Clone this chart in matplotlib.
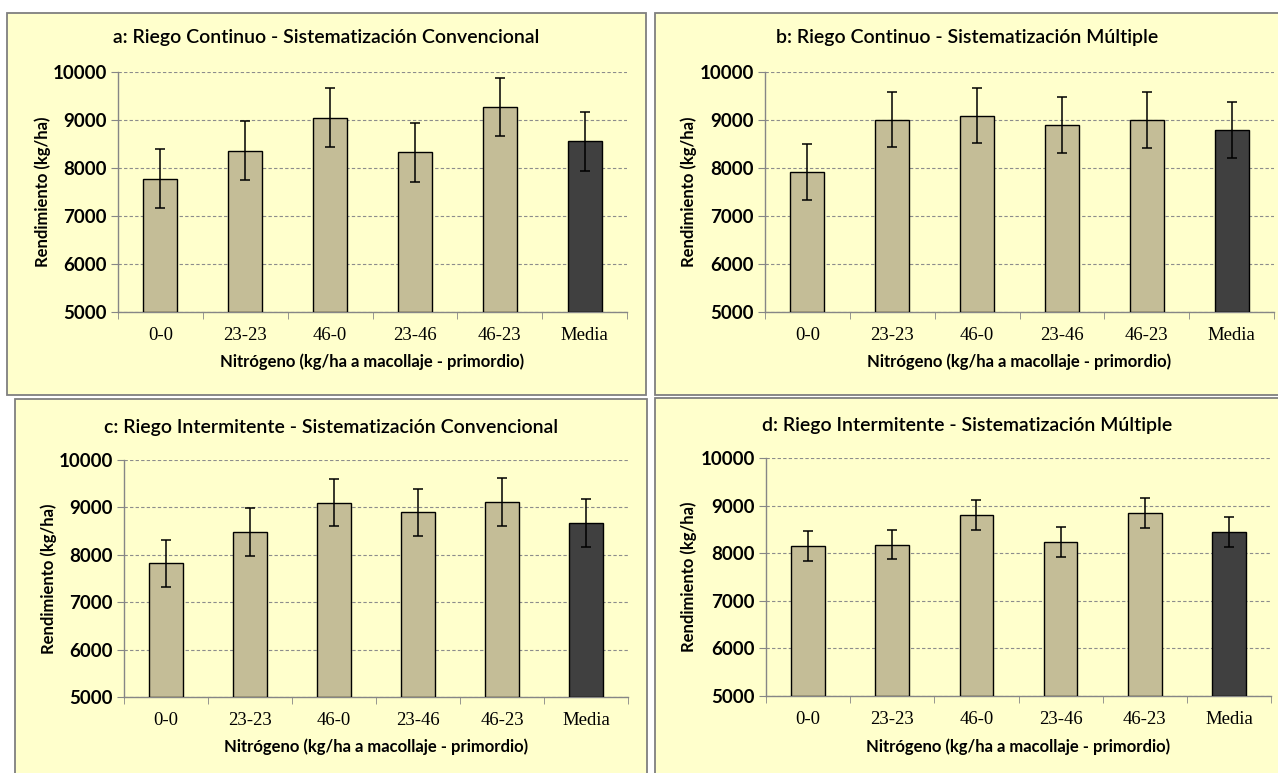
import matplotlib
matplotlib.use("Agg")
import matplotlib.pyplot as plt
from matplotlib.patches import Rectangle
import numpy as np

# Rendimiento de arroz por dosis de N, cuatro combinaciones riego / sistematización
categories = ["0-0", "23-23", "46-0", "23-46", "46-23", "Media"]

titles = [
    "a: Riego Continuo - Sistematización Convencional",
    "b: Riego Continuo - Sistematización Múltiple",
    "c: Riego Intermitente - Sistematización Convencional",
    "d: Riego Intermitente - Sistematización Múltiple",
]

yield_a = [7780, 8360, 9050, 8330, 9270, 8555]
err_a = [611, 610, 611, 612, 611, 611]

yield_b = [7915, 9005, 9090, 8895, 9000, 8785]
err_b = [580, 576, 577, 576, 577, 587]

yield_c = [7820, 8475, 9100, 8895, 9120, 8675]
err_c = [502, 502, 502, 500, 502, 512]

yield_d = [8160, 8180, 8800, 8230, 8850, 8455]
err_d = [315, 308, 318, 311, 315, 315]

W, H = 1278, 773
BG = "#FFFFCC"
TAN = "#C4BD97"
DARK = "#404040"
GRID = "#8C8C8C"

# panel boxes and plot areas in pixels: (x0, y0, x1, y1), y measured from the top
boxes = [(7, 13, 646, 395), (655, 13, 1285, 395), (15, 399, 647, 780), (655, 398, 1285, 780)]
areas = [(118, 72, 627, 312), (765, 72, 1274, 312), (124, 460, 628, 697), (766, 458, 1271, 696)]
title_x = [326, 967, 331, 967]
title_y = [38, 38, 427, 425]
ylabel_x = [43, 689, 49, 689]
xlabel_y = [362, 362, 747, 747]

fig = plt.figure(figsize=(W / 100, H / 100), dpi=100)
fig.patch.set_facecolor("white")

def fx(px):
    return px / W

def fy(py):
    return 1 - py / H

sans = "Lato"
serif = "Liberation Serif"

data = [(yield_a, err_a), (yield_b, err_b), (yield_c, err_c), (yield_d, err_d)]

for i, (vals, errs) in enumerate(data):
    bx0, by0, bx1, by1 = boxes[i]
    fig.patches.append(Rectangle((fx(bx0), fy(by1)), fx(bx1 - bx0), (by1 - by0) / H,
                                 transform=fig.transFigure, facecolor=BG,
                                 edgecolor="#7F7F7F", linewidth=1.3, zorder=-5))

    x0, y0, x1, y1 = areas[i]
    ax = fig.add_axes([fx(x0), fy(y1), fx(x1 - x0), (y1 - y0) / H])
    ax.set_facecolor("none")
    ax.set_zorder(2)

    x = np.arange(len(categories))
    colors = [TAN] * (len(categories) - 1) + [DARK]
    ax.bar(x, np.array(vals) - 5000, bottom=5000, width=0.4, color=colors,
           edgecolor="black", linewidth=1.0, zorder=3)
    ax.errorbar(x, vals, yerr=errs, fmt="none", ecolor="black", elinewidth=1.1,
                capsize=3.5, capthick=1.1, zorder=4)

    ax.set_xlim(-0.5, len(categories) - 0.5)
    ax.set_ylim(5000, 10000)
    ax.set_yticks(np.arange(5000, 10001, 1000))
    ax.yaxis.grid(True, linestyle=(0, (3, 2)), color=GRID, linewidth=0.8)
    ax.set_axisbelow(True)

    for s in ["top", "right"]:
        ax.spines[s].set_visible(False)
    for s in ["left", "bottom"]:
        ax.spines[s].set_color("#868686")
        ax.spines[s].set_linewidth(1.0)

    # category labels centred, tick marks on the slot boundaries
    ax.set_xticks(x)
    ax.set_xticklabels(categories, fontfamily=serif, fontsize=13.5)
    ax.set_xticks(np.arange(-0.5, len(categories)), minor=True)
    ax.tick_params(axis="x", which="major", length=0, pad=11)
    ax.tick_params(axis="x", which="minor", length=5, color="#868686", direction="out")
    ax.tick_params(axis="y", length=5, color="#868686", pad=3)
    for lab in ax.get_yticklabels():
        lab.set_fontfamily(sans)
        lab.set_fontweight("bold")
        lab.set_fontsize(13.5)

    fig.text(fx(title_x[i]), fy(title_y[i]), titles[i],
             ha="center", va="center", fontsize=14, fontweight="semibold", fontfamily=sans)
    fig.text(fx(ylabel_x[i]), fy((y0 + y1) / 2), "Rendimiento (kg/ha)", rotation=90,
             ha="center", va="center", fontsize=12, fontweight="bold", fontfamily=sans)
    fig.text(fx((x0 + x1) / 2), fy(xlabel_y[i]), "Nitrógeno (kg/ha a macollaje - primordio)",
             ha="center", va="center", fontsize=12, fontweight="bold", fontfamily=sans)

fig.savefig("out.png", dpi=100)
